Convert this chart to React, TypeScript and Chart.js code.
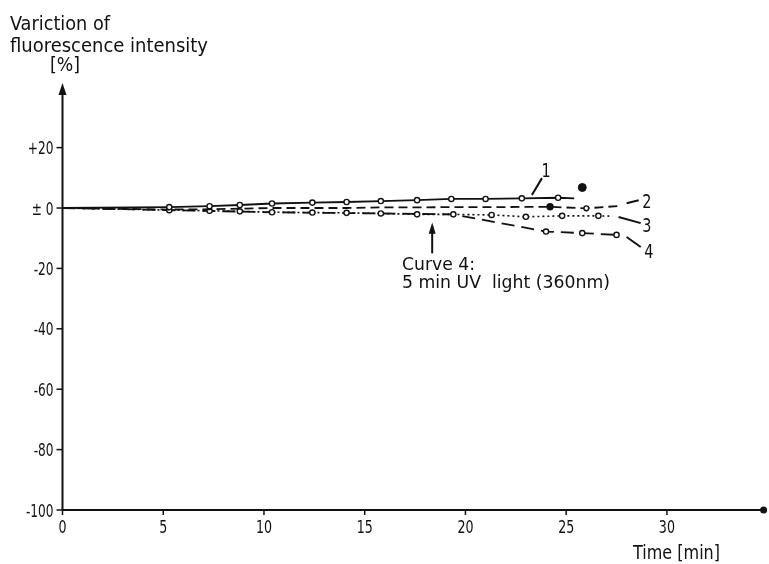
import React, { useEffect, useRef } from "react";
import { Chart, registerables } from "chart.js";

Chart.register(...registerables);

// ---- data ----
const times1 = [0, 5.3, 7.3, 8.8, 10.4, 12.4, 14.1, 15.8, 17.6, 19.3, 21.0, 22.8, 24.6, 25.4];
const values1 = [0, 0.3, 0.6, 1.0, 1.5, 1.8, 2.0, 2.3, 2.6, 3.0, 3.0, 3.2, 3.4, 3.2];

const times2 = [0, 5.3, 7.3, 8.8, 10.4, 12.4, 14.1, 15.8, 17.6, 19.3, 21.2, 24.2, 26.0, 27.7];
const values2 = [0, -0.5, -0.4, -0.2, 0, 0, 0, 0.2, 0.2, 0.3, 0.3, 0.4, -0.1, 0.7];

const times3 = [0, 5.3, 7.3, 8.8, 10.4, 12.4, 14.1, 15.8, 17.6, 19.4, 21.3, 23.0, 24.8, 26.6, 27.3];
const values3 = [0, -0.7, -0.9, -1.1, -1.4, -1.5, -1.6, -1.8, -2.1, -2.1, -2.3, -2.9, -2.6, -2.6, -2.7];

const times4 = [0, 5.3, 10.4, 15.8, 19.4, 24.0, 25.8, 27.5];
const values4 = [0, -0.7, -1.4, -1.8, -2.1, -7.8, -8.3, -8.9];

const outlierTime = [25.8];
const outlierValue = [6.8];

const xTicks = [0, 5, 10, 15, 20, 25, 30];
const yTicks = [20, 0, -20, -40, -60, -80, -100];
const yTickLabels = ["+20", "\u00b1 0", "-20", "-40", "-60", "-80", "-100"];

const FONT = '"DejaVu Sans Condensed", "DejaVu Sans", sans-serif';
const INK = "#111";

function pts(t: number[], v: number[]) {
  return t.map((x, i) => ({ x, y: v[i] }));
}

function drawText(
  ctx: CanvasRenderingContext2D,
  text: string,
  x: number,
  y: number,
  size: number,
  width: number | null,
  align: "left" | "center" | "right" = "left",
  squeeze = 1
) {
  ctx.save();
  ctx.font = `${size}px ${FONT}`;
  ctx.fillStyle = INK;
  ctx.textBaseline = "alphabetic";
  const m = ctx.measureText(text).width;
  const sx = width ? width / m : squeeze;
  const w = m * sx;
  let left = x;
  if (align === "center") left = x - w / 2;
  if (align === "right") left = x - w;
  ctx.translate(left, y);
  ctx.scale(sx, 1);
  ctx.textAlign = "left";
  ctx.fillText(text, 0, 0);
  ctx.restore();
}

const decor = {
  id: "decor",
  beforeDatasetsDraw(chart: any) {
    const ctx: CanvasRenderingContext2D = chart.ctx;
    const xs = chart.scales.x;
    const ys = chart.scales.y;
    const X = (v: number) => xs.getPixelForValue(v);
    const Y = (v: number) => ys.getPixelForValue(v);
    const x0 = X(0);
    const yb = Y(-100);
    ctx.save();
    ctx.strokeStyle = INK;
    ctx.fillStyle = INK;
    ctx.lineWidth = 2;
    // y axis
    ctx.beginPath();
    ctx.moveTo(x0, yb);
    ctx.lineTo(x0, chart.chartArea.top + 8);
    ctx.stroke();
    ctx.beginPath();
    ctx.moveTo(x0, chart.chartArea.top);
    ctx.lineTo(x0 - 4, chart.chartArea.top + 12);
    ctx.lineTo(x0 + 4, chart.chartArea.top + 12);
    ctx.closePath();
    ctx.fill();
    // x axis
    ctx.beginPath();
    ctx.moveTo(x0, yb);
    ctx.lineTo(chart.chartArea.right, yb);
    ctx.stroke();
    ctx.beginPath();
    ctx.arc(chart.chartArea.right, yb, 3.5, 0, Math.PI * 2);
    ctx.fill();
    // ticks
    ctx.lineWidth = 1.5;
    yTicks.forEach((v, i) => {
      const y = Y(v);
      ctx.beginPath();
      ctx.moveTo(x0 - 6, y);
      ctx.lineTo(x0, y);
      ctx.stroke();
      drawText(ctx, yTickLabels[i], x0 - 9, y + 6.5, 18, null, "right", 0.75);
    });
    xTicks.forEach((v) => {
      const x = X(v);
      ctx.beginPath();
      ctx.moveTo(x, yb);
      ctx.lineTo(x, yb + 5);
      ctx.stroke();
      drawText(ctx, String(v), x, yb + 23, 18, null, "center", 0.78);
    });
    ctx.restore();

    // titles
    drawText(ctx, "Variction of", 10, 30, 20, 100);
    drawText(ctx, "fluorescence intensity", 10, 52, 20, 198);
    drawText(ctx, "[%]", 50, 71, 19, 30);
    drawText(ctx, "Time [min]", 633, 559, 19, 87);

    // annotations
    ctx.save();
    ctx.strokeStyle = INK;
    ctx.fillStyle = INK;
    ctx.lineWidth = 2;
    const lead = (t1: number, v1: number, t2: number, v2: number) => {
      ctx.beginPath();
      ctx.moveTo(X(t1), Y(v1));
      ctx.lineTo(X(t2), Y(v2));
      ctx.stroke();
    };
    lead(23.3, 4.3, 23.8, 9.9);
    lead(28.0, 1.6, 28.6, 2.6);
    lead(27.6, -3.0, 28.7, -5.0);
    lead(28.0, -9.6, 28.7, -12.9);
    drawText(ctx, "1", X(24.0), Y(12.6) + 7, 20, null, "center", 0.8);
    drawText(ctx, "2", X(29.0), Y(2.6) + 7.5, 20, null, "center", 0.8);
    drawText(ctx, "3", X(29.0), Y(-5.3) + 7.5, 20, null, "center", 0.8);
    drawText(ctx, "4", X(29.1), Y(-14.2) + 7.5, 20, null, "center", 0.8);

    // Curve 4 arrow
    const ax = X(18.35);
    ctx.lineWidth = 2;
    ctx.beginPath();
    ctx.moveTo(ax, Y(-15));
    ctx.lineTo(ax, Y(-6));
    ctx.stroke();
    ctx.beginPath();
    ctx.moveTo(ax, Y(-4.8));
    ctx.lineTo(ax - 3.5, Y(-8.5));
    ctx.lineTo(ax + 3.5, Y(-8.5));
    ctx.closePath();
    ctx.fill();
    ctx.restore();
    drawText(ctx, "Curve 4:", X(16.85), Y(-20.5), 18, 73);
    drawText(ctx, "5 min UV  light (360nm)", X(16.85), Y(-26.5), 18, 208);
  },
};

export default function App() {
  const ref = useRef<HTMLCanvasElement | null>(null);
  useEffect(() => {
    if (!ref.current) return;
    const open = (n: number, skip: number[]) =>
      Array.from({ length: n }, (_, i) => (skip.includes(i) ? 0 : 2.6));
    const chart = new Chart(ref.current, {
      type: "scatter",
      data: {
        datasets: [
          {
            label: "1",
            data: pts(times1, values1),
            showLine: true,
            borderColor: INK,
            borderWidth: 1.8,
            pointRadius: open(times1.length, [0, times1.length - 1]),
            pointBackgroundColor: "#fff",
            pointBorderColor: INK,
            pointBorderWidth: 1.4,
          },
          {
            label: "2",
            data: pts(times2, values2),
            showLine: true,
            borderColor: INK,
            borderWidth: 1.8,
            borderDash: [9, 5],
            pointRadius: times2.map((t, i) => (i === 11 ? 3 : i === 12 ? 2.4 : 0)),
            pointBackgroundColor: times2.map((t, i) => (i === 11 ? INK : "#fff")),
            pointBorderColor: INK,
            pointBorderWidth: 1.4,
          },
          {
            label: "3",
            data: pts(times3, values3),
            showLine: true,
            borderColor: INK,
            borderWidth: 1.6,
            borderDash: [2, 3],
            pointRadius: open(times3.length, [0, times3.length - 1]),
            pointBackgroundColor: "#fff",
            pointBorderColor: INK,
            pointBorderWidth: 1.4,
          },
          {
            label: "4",
            data: pts(times4, values4),
            showLine: true,
            borderColor: INK,
            borderWidth: 1.8,
            borderDash: [13, 7],
            pointRadius: times4.map((t, i) => (i >= 5 ? 2.6 : 0)),
            pointBackgroundColor: "#fff",
            pointBorderColor: INK,
            pointBorderWidth: 1.4,
          },
          {
            label: "outlier",
            data: pts(outlierTime, outlierValue),
            showLine: false,
            pointRadius: 4,
            pointBackgroundColor: INK,
            pointBorderColor: INK,
          },
        ],
      },
      options: {
        animation: false,
        responsive: false,
        devicePixelRatio: 1,
        layout: { padding: { left: 62.5, right: 4, top: 83, bottom: 54 } },
        plugins: { legend: { display: false }, tooltip: { enabled: false } },
        scales: {
          x: { type: "linear", min: 0, max: 34.8, display: false },
          y: { type: "linear", min: -100, max: 41.4, display: false },
        },
      },
      plugins: [decor],
    });
    return () => chart.destroy();
  }, []);
  return (
    <div style={{ position: "fixed", left: 0, top: 0, width: 769, height: 564, background: "#fff" }}>
      <canvas ref={ref} width={769} height={564} style={{ display: "block" }} />
    </div>
  );
}
